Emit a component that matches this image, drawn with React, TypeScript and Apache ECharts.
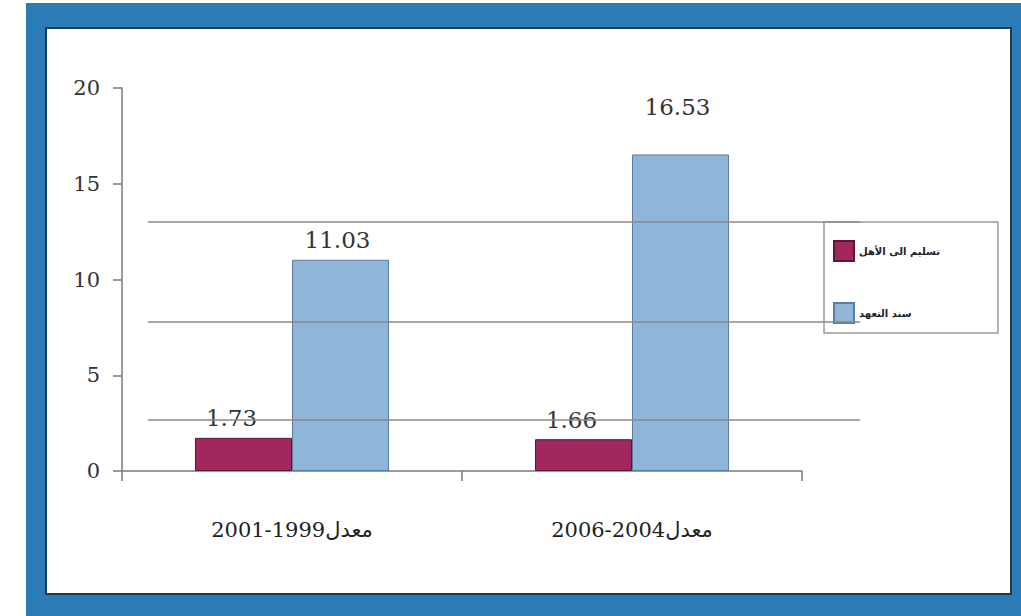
import React, { useEffect, useRef } from "react";
import * as echarts from "echarts";

const categories = ["2001-1999معدل", "2006-2004معدل"];
const seriesNames = ["تسليم الى الأهل", "سند التعهد"];
const deliveredToFamily = [1.73, 1.66];
const pledgeBond = [11.03, 16.53];
const yTicks = { min: 0, max: 20, interval: 5 };

export default function App() {
  const ref = useRef<HTMLDivElement>(null);
  useEffect(() => {
    const chart = echarts.init(ref.current!, null, { renderer: "svg" });
    const serif = "'DejaVu Serif', 'Liberation Serif', 'DejaVu Sans', serif";
    const decoLine = (y: number) => ({
      type: "line",
      z: 10,
      shape: { x1: 148, y1: y, x2: 860, y2: y },
      style: { stroke: "#8a8a8a", lineWidth: 1.5 },
      silent: true,
    });
    chart.setOption({
      animation: false,
      backgroundColor: "#ffffff",
      graphic: [
        { type: "rect", z: -20, shape: { x: 26, y: 3, width: 995, height: 613 }, style: { fill: "#2a7bb6" } },
        { type: "rect", z: -19, shape: { x: 46, y: 28, width: 965, height: 566 }, style: { fill: "#ffffff", stroke: "#1d3a52", lineWidth: 2 } },
        decoLine(222),
        decoLine(322),
        decoLine(420),
      ],
      grid: { left: 122, right: 219, top: 88, bottom: 145 },
      legend: {
        left: 824,
        top: 222,
        orient: "vertical",
        itemWidth: 20,
        itemHeight: 20,
        itemGap: 40,
        borderColor: "#9a9a9a",
        borderWidth: 1.5,
        padding: [18, 58, 9, 9],
        icon: "rect",
        textStyle: { fontFamily: "'DejaVu Sans', sans-serif", fontSize: 10, fontWeight: "bold", color: "#222", padding: [10, 0, 0, 0] },
        data: seriesNames,
      },
      xAxis: {
        type: "category",
        data: categories,
        axisLine: { lineStyle: { color: "#7a7a7a", width: 1.5 } },
        axisTick: { show: true, length: 10, lineStyle: { color: "#7a7a7a", width: 1.5 } },
        axisLabel: { margin: 48, fontFamily: serif, fontSize: 21, color: "#222" },
      },
      yAxis: {
        type: "value",
        min: yTicks.min,
        max: yTicks.max,
        interval: yTicks.interval,
        splitLine: { show: false },
        axisLine: { show: true, lineStyle: { color: "#7a7a7a", width: 1.5 } },
        axisTick: { show: true, length: 9, lineStyle: { color: "#7a7a7a", width: 1.5 } },
        axisLabel: { margin: 22, fontFamily: serif, fontSize: 21, color: "#333" },
      },
      series: [
        {
          name: seriesNames[0],
          type: "bar",
          data: deliveredToFamily,
          barWidth: 97,
          barGap: "0%",
          itemStyle: { color: "#a3275f", borderColor: "#5a1834", borderWidth: 1 },
          label: { show: true, position: "top", distance: 8, offset: [-12, 0], fontFamily: serif, fontSize: 23, color: "#333" },
        },
        {
          name: seriesNames[1],
          type: "bar",
          data: pledgeBond.map((v, i) => (i === 1 ? { value: v, label: { distance: 36 } } : v)),
          barWidth: 97,
          barGap: "0%",
          itemStyle: { color: "#8fb5d9", borderColor: "#5c7d9c", borderWidth: 1 },
          label: { show: true, position: "top", distance: 8, offset: [-3, 0], fontFamily: serif, fontSize: 23, color: "#333" },
        },
      ],
    });
    return () => chart.dispose();
  }, []);
  return <div ref={ref} style={{ position: "fixed", left: 0, top: 0, width: 1021, height: 616 }} />;
}
